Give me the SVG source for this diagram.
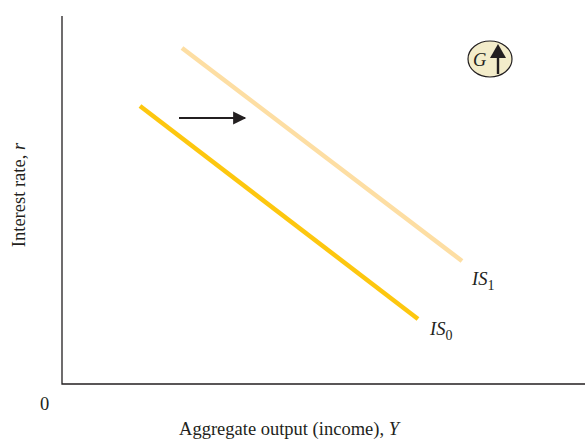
<svg xmlns="http://www.w3.org/2000/svg" width="585" height="440" viewBox="0 0 585 440">
<style>
text{font-family:"Liberation Serif","Times New Roman",serif;fill:#231f20}
.lbl{font-size:18.5px}
.it{font-style:italic}
.sub{font-style:normal;font-size:14px}
.axis{stroke:#231f20;stroke-width:1.3;fill:none}
</style>
<defs>
<marker id="ah" viewBox="0 0 10 10" refX="9" refY="5" markerWidth="6.5" markerHeight="6" orient="auto" markerUnits="strokeWidth">
<path d="M0,0 L10,5 L0,10 z" fill="#231f20"/>
</marker>
</defs>
<rect width="585" height="440" fill="#fff"/>
<g id="axes">
<path class="axis" d="M62,16 V384 H585"/>
<text class="lbl" x="40" y="410">0</text>
<text class="lbl" x="289" y="435" text-anchor="middle">Aggregate output (income), <tspan class="it">Y</tspan></text>
<text class="lbl" font-size="20" transform="translate(25,195) rotate(-90)" text-anchor="middle">Interest rate, <tspan class="it">r</tspan></text>
</g>
<g id="connectors">
<line id="IS0" x1="140" y1="106" x2="418" y2="319" stroke="#fdc70f" stroke-width="4.5"/>
<line id="IS1" x1="182" y1="48" x2="462" y2="261" stroke="#fddea3" stroke-width="4.5"/>
<line id="shift" x1="179" y1="118" x2="245" y2="118" stroke="#231f20" stroke-width="2.2" marker-end="url(#ah)"/>
</g>
<g id="label-IS1"><text class="lbl it" x="472" y="285">IS<tspan class="sub" dy="5">1</tspan></text></g>
<g id="label-IS0"><text class="lbl it" x="430" y="335">IS<tspan class="sub" dy="5">0</tspan></text></g>
<g id="G-badge">
<ellipse cx="490" cy="59" rx="22" ry="18" fill="#f3ecca" stroke="#231f20" stroke-width="1.2"/>
<text class="lbl it" font-size="20" x="473" y="66">G</text>
<path d="M498,74 V55" stroke="#231f20" stroke-width="2.4"/>
<path d="M490,58 L498,44 L506,58 z" fill="#231f20"/>
</g>
</svg>
